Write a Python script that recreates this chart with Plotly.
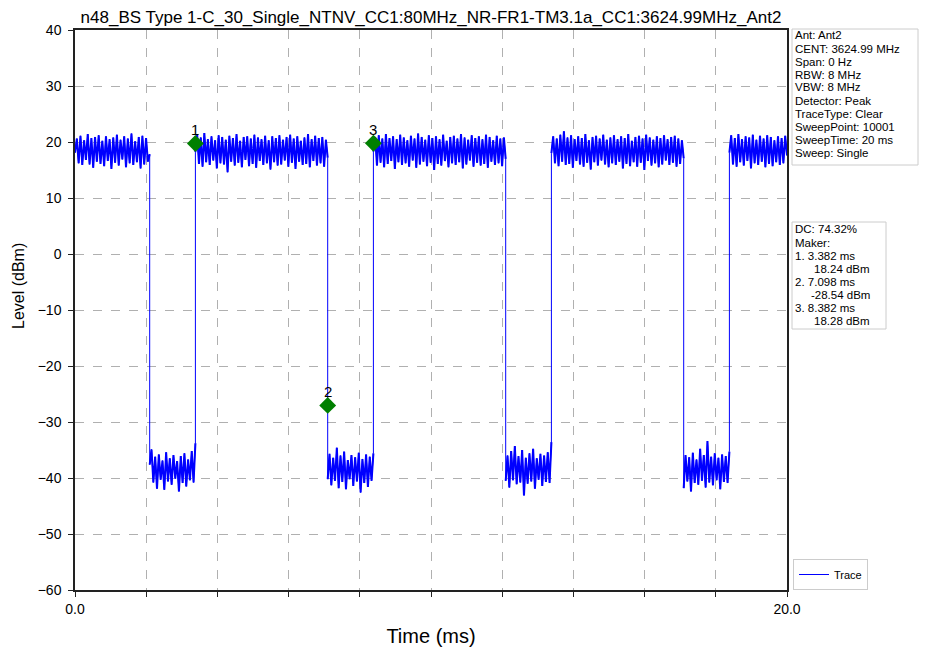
import numpy as np
import plotly.graph_objects as go

# ---------------- data ----------------
title_text = "n48_BS Type 1-C_30_Single_NTNV_CC1:80MHz_NR-FR1-TM3.1a_CC1:3624.99MHz_Ant2"

# segment boundaries (ms) and the level samples in each segment
seg_bounds = [0.0, 2.098, 3.382, 7.098, 8.382, 12.098, 13.382, 17.098, 18.382, 20.0]

hi_a = [18.1, 20.6, 16.2, 21.1, 15.9, 20.3, 16.8, 21.4, 16.0, 20.7, 15.4, 20.9, 16.5, 21.2,
        16.1, 20.2, 15.7, 21.0, 16.6, 20.5, 15.2, 20.8, 16.3, 21.3, 15.8, 20.4, 16.9, 21.0,
        15.5, 20.6, 16.2, 21.5, 15.9, 20.1, 16.4, 20.9, 15.3, 21.1, 16.0, 20.7, 16.5, 17.8]
lo_a = [-37.6, -34.9, -40.8, -36.2, -41.9, -35.8, -40.3, -36.9, -42.1, -35.4, -40.6, -36.5, -41.2,
        -35.9, -40.1, -37.0, -42.4, -36.1, -40.9, -35.6, -41.5, -36.7, -40.4, -35.2, -40.8, -33.8]
hi_b = [18.2, 21.3, 16.1, 20.8, 15.6, 21.6, 16.4, 20.5, 15.9, 21.0, 16.7, 20.3, 15.3, 21.2, 16.2,
        20.9, 16.0, 20.4, 14.6, 21.1, 16.5, 20.7, 15.8, 21.4, 16.3, 20.2, 15.5, 20.9, 16.8, 21.0,
        15.7, 20.6, 16.1, 21.3, 15.4, 20.8, 16.6, 20.5, 15.9, 21.1, 16.2, 20.3, 15.1, 21.0, 16.4,
        20.7, 15.8, 21.2, 16.0, 20.4, 16.7, 20.9, 15.6, 21.3, 16.3, 20.6, 15.2, 21.0, 16.5, 20.2,
        15.9, 20.8, 16.1, 21.4, 15.5, 20.5, 16.6, 21.1, 15.8, 20.7, 16.2, 20.9, 15.6, 20.4, 17.2]
lo_b = [-40.2, -35.7, -41.3, -36.4, -40.5, -34.6, -41.8, -36.0, -40.7, -35.3, -42.0, -36.8, -40.2,
        -35.9, -41.4, -36.3, -40.6, -35.5, -42.6, -36.6, -40.9, -35.8, -41.6, -36.2, -40.5, -35.6]
hi_c = [18.3, 20.9, 15.8, 21.2, 16.3, 20.6, 15.5, 21.4, 16.1, 20.7, 16.6, 21.0, 15.2, 20.5, 16.4,
        21.3, 15.9, 20.8, 16.2, 20.3, 15.6, 21.1, 16.7, 20.6, 15.4, 21.5, 16.0, 20.9, 16.5, 20.4,
        15.7, 21.2, 16.3, 20.7, 15.0, 21.0, 16.1, 20.5, 15.8, 21.3, 16.6, 20.2, 15.5, 20.9, 16.2,
        21.1, 15.9, 20.6, 16.4, 21.4, 15.3, 20.8, 16.0, 20.4, 16.7, 21.2, 15.6, 20.7, 16.3, 21.0,
        15.8, 20.5, 16.1, 21.3, 15.4, 20.9, 16.5, 20.3, 15.9, 21.1, 16.2, 20.6, 15.7, 20.8, 17.0]
lo_c = [-40.5, -36.0, -41.7, -35.2, -40.4, -34.3, -41.1, -36.1, -40.8, -35.0, -43.1, -36.4, -41.0,
        -35.6, -40.6, -34.8, -41.9, -36.5, -40.3, -35.7, -41.4, -36.0, -40.7, -35.4, -40.9, -33.6]
hi_d = [18.0, 21.0, 16.2, 20.6, 15.7, 21.3, 16.5, 21.9, 15.9, 20.8, 16.1, 21.2, 15.4, 20.5, 16.6,
        21.0, 16.0, 20.7, 15.6, 21.4, 16.3, 20.3, 15.1, 20.9, 16.4, 21.1, 15.8, 20.6, 16.7, 21.3,
        16.0, 20.4, 15.5, 20.8, 16.2, 21.2, 15.9, 20.5, 16.5, 21.0, 15.3, 20.7, 16.1, 21.4, 15.7,
        20.2, 16.4, 20.9, 15.6, 21.1, 16.3, 20.6, 15.0, 21.3, 16.6, 20.8, 15.8, 20.4, 16.2, 21.0,
        15.5, 20.7, 16.0, 21.2, 16.7, 20.5, 15.9, 20.9, 16.3, 21.1, 15.6, 20.6, 16.1, 20.3, 17.1]
lo_d = [-41.8, -35.9, -40.6, -36.3, -42.4, -35.5, -40.9, -36.7, -41.2, -34.8, -40.5, -35.9, -41.7,
        -33.4, -40.8, -36.2, -41.3, -35.6, -40.4, -36.4, -42.0, -35.8, -40.7, -36.1, -40.9, -35.3]
hi_e = [18.1, 21.2, 16.0, 20.7, 15.6, 21.4, 16.4, 20.5, 15.8, 21.0, 16.6, 20.8, 15.3, 21.3, 16.2,
        20.4, 15.9, 21.1, 16.5, 20.6, 15.5, 21.2, 16.1, 20.9, 15.7, 20.3, 16.4, 21.0, 15.9, 20.7,
        16.2, 21.1, 17.6]
segments = [hi_a, lo_a, hi_b, lo_b, hi_c, lo_c, hi_d, lo_d, hi_e]

# markers
marker_ids = ["1", "2", "3"]
marker_time = [3.382, 7.098, 8.382]
marker_level = [18.24, -28.54, 18.28]
marker_display_offset = 1.5

info_lines = ["Ant: Ant2", "CENT: 3624.99 MHz", "Span: 0 Hz", "RBW: 8 MHz", "VBW: 8 MHz",
              "Detector: Peak", "TraceType: Clear", "SweepPoint: 10001", "SweepTime: 20 ms",
              "Sweep: Single"]
duty_cycle = "74.32%"

x_ticks = [0, 2, 4, 6, 8, 10, 12, 14, 16, 18, 20]
x_ticktext = ["0.0", "", "", "", "", "", "", "", "", "", "20.0"]
y_ticks = [40, 30, 20, 10, 0, -10, -20, -30, -40, -50, -60]

# ---------------- build trace ----------------
t_all, v_all = [], []          # full series (one connected line)
t_flat, v_flat = [], []        # plateau parts only, for a denser noise band
for i, seg in enumerate(segments):
    tt = np.linspace(seg_bounds[i], seg_bounds[i + 1], len(seg)).tolist()
    t_all.extend(tt)
    v_all.extend(seg)
    t_flat.extend(tt + [None])
    v_flat.extend(list(seg) + [None])

FONT = "Liberation Sans, Arial, sans-serif"
OFF = 8                                   # default page body margin around the figure
W, H = 927 - OFF, 651 - OFF
SL, SR, ST, SB = 75, 787, 30, 590         # plot area in window pixels
L, T = SL - OFF, ST - OFF
R, B = W - (SR - OFF), H - (SB - OFF)
PW, PH = SR - SL, SB - ST


def px(xs):
    return (xs - SL) / PW


def py(ys):
    return (SB - ys) / PH


fig = go.Figure()
fig.add_trace(go.Scatter(x=t_all, y=v_all, mode="lines", name="Trace",
                         line=dict(color="#0000ff", width=1), legendgroup="tr"))
fig.add_trace(go.Scatter(x=t_flat, y=v_flat, mode="lines", name="Trace", showlegend=False,
                         line=dict(color="#0000ff", width=2.0), legendgroup="tr",
                         connectgaps=False, hoverinfo="skip"))
marker_y = [v + marker_display_offset for v in marker_level]
fig.add_trace(go.Scatter(x=marker_time, y=marker_y, mode="markers", showlegend=False,
                         marker=dict(symbol="diamond", color="#008000", size=13,
                                     line=dict(width=0))))

annotations = []
for mid, mt, my in zip(marker_ids, marker_time, marker_y):
    annotations.append(dict(x=mt, y=my, xref="x", yref="y", text=mid, showarrow=False,
                            yshift=14, font=dict(size=15, color="black", family=FONT)))

# y-axis title (centred where the reference shows it)
annotations.append(dict(x=px(18), y=py(286), xref="paper", yref="paper", text="Level (dBm)",
                        textangle=-90, showarrow=False, xanchor="center", yanchor="middle",
                        font=dict(size=16, color="black", family=FONT)))

info_font = dict(size=11.5, color="black", family=FONT)
line_h = 13.0
for k, s in enumerate(info_lines):
    annotations.append(dict(x=px(794), y=py(35.5 + k * line_h), xref="paper", yref="paper",
                            text=s, showarrow=False, xanchor="left", yanchor="middle",
                            borderpad=0, font=info_font))
box2 = [("DC: " + duty_cycle, 794), ("Maker:", 794)]
for mid, mt, mv in zip(marker_ids, marker_time, marker_level):
    box2.append((f"{mid}. {mt:.3f} ms", 794))
    box2.append((f"{mv:.2f} dBm", 810 if mv < 0 else 813))
for k, (s, xx) in enumerate(box2):
    annotations.append(dict(x=px(xx), y=py(229.5 + k * line_h), xref="paper", yref="paper",
                            text=s, showarrow=False, xanchor="left", yanchor="middle",
                            borderpad=0, font=info_font))

shapes = [
    dict(type="rect", xref="paper", yref="paper", x0=px(792), x1=px(918), y0=py(165), y1=py(29),
         line=dict(color="#cccccc", width=1), fillcolor="white", layer="below"),
    dict(type="rect", xref="paper", yref="paper", x0=px(792), x1=px(886), y0=py(329), y1=py(222),
         line=dict(color="#cccccc", width=1), fillcolor="white", layer="below"),
]

axis_common = dict(showline=True, linecolor="#222222", linewidth=1.5, mirror=True,
                   ticks="outside", ticklen=5, tickwidth=1.2, tickcolor="#222222",
                   showgrid=True, gridcolor="#b0b0b0", gridwidth=0.8, griddash="dash",
                   zeroline=False, automargin=False,
                   tickfont=dict(size=14, color="black", family=FONT))

fig.update_layout(
    width=W, height=H,
    margin=dict(l=L, r=R, t=T, b=B, autoexpand=False),
    plot_bgcolor="white", paper_bgcolor="white",
    title=dict(text=title_text, xref="paper", x=0.5, xanchor="center",
               yref="container", y=1.0, yanchor="top", pad=dict(t=3),
               font=dict(size=17, color="black", family=FONT)),
    xaxis=dict(range=[0, 20], tickvals=x_ticks, ticktext=x_ticktext,
               title=dict(text="Time (ms)", font=dict(size=20, color="black", family=FONT),
                          standoff=13),
               **axis_common),
    yaxis=dict(range=[-60, 40], tickvals=y_ticks, ticklabelstandoff=4, **axis_common),
    showlegend=True,
    legend=dict(x=px(793), y=py(590), xanchor="left", yanchor="bottom",
                bordercolor="#cccccc", borderwidth=1, bgcolor="white",
                font=dict(size=11, color="black", family=FONT)),
    annotations=annotations,
    shapes=shapes,
)

fig.write_html("out.html")
